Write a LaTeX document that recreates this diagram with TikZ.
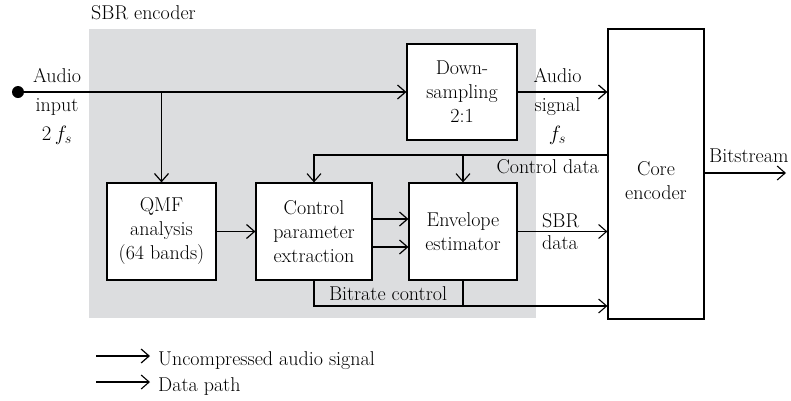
\documentclass[tikz,border=0pt]{standalone}
\usepackage{xcolor}
\usepackage{tikz}
\usetikzlibrary{arrows.meta}
\usepackage{amsmath}

\definecolor{sbrgray}{RGB}{220,221,223}
\tikzset{
	block/.style={draw, line width=1.2pt, fill=white, align=center, inner sep=0pt, font=\fontsize{20}{24}\selectfont},
	audio/.style={line width=1.8pt, -{Straight Barb[length=8pt,width=14pt,line width=1.2pt]}},
	data/.style={line width=1.1pt, -{Straight Barb[length=8pt,width=14pt,line width=1.1pt]}},
	plain/.style={line width=1.1pt}
}

\begin{document}
\begin{tikzpicture}[x=1pt, y=-1pt, font=\fontsize{20}{24}\selectfont]
	\useasboundingbox (0,0) rectangle (791,400);
	\fill[sbrgray] (89,29) rectangle (536,318);
	\node[anchor=base west, inner sep=0pt] (sbrlabel) at (91,19) {SBR encoder};

	\node[block, minimum width=110pt, minimum height=96pt] (down) at (462,92) {Down-\\sampling\\2:1};
	\node[block, minimum width=109pt, minimum height=97pt] (qmf) at (161.5,231.5) {QMF\\analysis\\(64 bands)};
	\node[block, minimum width=116pt, minimum height=97pt] (cpe) at (314,231.5) {Control\\parameter\\extraction};
	\node[block, minimum width=108pt, minimum height=97pt] (env) at (463,231.5) {Envelope\\estimator};
	\node[block, minimum width=96pt, minimum height=290pt] (core) at (656,174) {};
	\node[align=center, inner sep=0pt] (coretext) at ([yshift=-7pt]core.center) {Core\\encoder};

	\coordinate (in) at (18,92);
	\fill (in) circle (6pt);
	\draw[audio] (in) -- (down.west);
	\draw[audio] (qmf.north |- in) -- (qmf.north);
	\draw[audio] (down.east) -- (down.east -| core.west);
	\draw[audio] (qmf.east) -- (cpe.west);
	\draw[audio] (cpe.east |- 0,219) -- (env.west |- 0,219);
	\draw[audio] (cpe.east |- 0,247) -- (env.west |- 0,247);

	\coordinate (ctrl) at (core.west |- 0,155);
	\draw[data] (ctrl) -| (cpe.north);
	\draw[data] (env.north |- ctrl) -- (env.north);
	\draw[data] (env.east) -- (env.east -| core.west);
	\coordinate (rate) at (core.west |- 0,306);
	\draw[data] (cpe.south) |- (rate);
	\draw[plain] (env.south) -- (env.south |- rate);
	\coordinate (out) at (786,173);
	\draw[data] (core.east |- out) -- (out);

	\node[anchor=north, align=center, inner sep=0pt, font=\fontsize{20}{29}\selectfont] (inlabel) at (57,68) {Audio\\input\\$2\,f_s$};
	\node[anchor=north, align=center, inner sep=0pt, font=\fontsize{20}{29}\selectfont] (outlabel) at (557.5,68) {Audio\\signal\\$f_s$};
	\node[anchor=base east, inner sep=0pt] (ctrllabel) at (599,173) {Control data};
	\node[anchor=west, align=left, inner sep=0pt, font=\fontsize{20}{22}\selectfont] (sbrdata) at (542,232) {SBR\\data};
	\node[anchor=base, inner sep=0pt] (ratelabel) at (388,300) {Bitrate control};
	\node[anchor=base west, inner sep=0pt] (bslabel) at (709,162) {Bitstream};

	\node[anchor=base west, inner sep=0pt] (leg1) at (158,365) {Uncompressed audio signal};
	\node[anchor=base west, inner sep=0pt] (leg2) at (158,391) {Data path};
	\draw[audio] ([xshift=-62pt,yshift=9pt]leg1.base west) -- ([xshift=-8pt,yshift=9pt]leg1.base west);
	\draw[data] ([xshift=-62pt,yshift=9pt]leg2.base west) -- ([xshift=-8pt,yshift=9pt]leg2.base west);
\end{tikzpicture}
\end{document}
